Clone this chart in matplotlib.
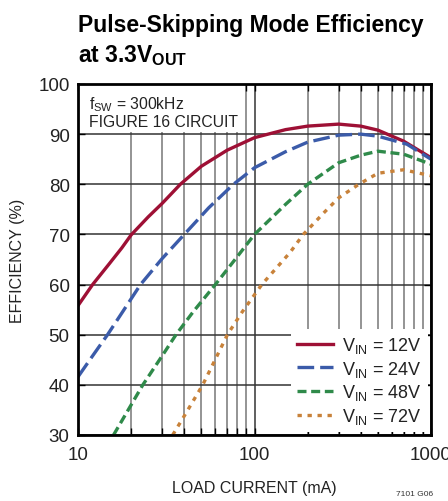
import matplotlib
matplotlib.use('Agg')
import matplotlib.pyplot as plt
from matplotlib.patches import Rectangle
from matplotlib.ticker import FixedLocator, NullFormatter

plt.rcParams['font.family'] = ['Liberation Sans', 'DejaVu Sans']
plt.rcParams['mathtext.fontset'] = 'custom'
plt.rcParams['mathtext.rm'] = 'Liberation Sans'
plt.rcParams['mathtext.bf'] = 'Liberation Sans:bold'

# data (load current mA, efficiency %)
i_12 = [10, 12.1, 15, 17.7, 20, 25, 30, 38, 50, 70, 100, 150, 200, 300, 400, 500, 700, 1000]
e_12 = [55.8, 60, 64.1, 67.3, 69.9, 73.5, 76.2, 80, 83.6, 86.8, 89.3, 90.9, 91.6, 92.0, 91.6, 90.8, 88.6, 85.3]

i_24 = [10, 12, 14.7, 18, 22.6, 30, 40, 55, 76, 100, 150, 200, 300, 400, 500, 730, 1000]
e_24 = [41.6, 45.6, 50, 54.7, 60, 65.2, 70, 75.3, 80, 83.3, 86.5, 88.4, 89.8, 90.0, 89.6, 88.0, 85.0]

i_48 = [15.9, 20, 23.3, 30, 35.9, 45, 60, 80, 100, 150, 200, 300, 400, 500, 700, 1000]
e_48 = [30, 36.0, 40, 45.8, 50, 54.6, 60, 65.6, 70, 76.0, 80, 84.3, 85.8, 86.6, 86.0, 84.0]

i_72 = [34.4, 40, 50.9, 60, 70.2, 85, 110, 159, 189, 250, 300, 390, 500, 700, 1000]
e_72 = [30, 33.8, 40, 45.1, 50, 54.5, 60, 66.4, 70, 74.5, 77.3, 80, 82.2, 82.9, 81.7]

labels = ['$\\mathregular{V_{IN}}$ = 12V', '$\\mathregular{V_{IN}}$ = 24V',
          '$\\mathregular{V_{IN}}$ = 48V', '$\\mathregular{V_{IN}}$ = 72V']
xticks = [10, 100, 1000]
xminor = [20, 30, 40, 50, 60, 70, 80, 90, 200, 300, 400, 500, 600, 700, 800, 900]
yticks = [30, 40, 50, 60, 70, 80, 90, 100]

fig = plt.figure(figsize=(4.48, 5.02), dpi=100)
ax = fig.add_axes([78 / 448, 1 - 436 / 502, 353 / 448, 351 / 502])

ax.set_xscale('log')
ax.set_xlim(10, 1000)
ax.set_ylim(30, 100)

ax.xaxis.set_major_locator(FixedLocator(xticks))
ax.xaxis.set_minor_locator(FixedLocator(xminor))
ax.xaxis.set_minor_formatter(NullFormatter())
ax.set_xticks(xticks, [str(v) for v in xticks])
ax.set_yticks(yticks)

ax.grid(which='major', axis='x', color='#444444', lw=1.2)
ax.grid(which='minor', axis='x', color='#777777', lw=1.1)
ax.grid(which='major', axis='y', color='#333333', lw=1.1)
ax.set_axisbelow(True)
ax.tick_params(which='both', direction='in', top=True, right=True, length=5,
               width=1, labelsize=13.5, labelcolor='#222222', pad=6)
ax.tick_params(axis='x', pad=8)
for s in ax.spines.values():
    s.set_linewidth(2)

# white box behind the annotation text
ax.add_patch(Rectangle((0, 0.862), 0.468, 0.138, transform=ax.transAxes,
                       facecolor='white', edgecolor='none', zorder=1))
ax.text(0.03, 0.972, '$\\mathregular{f_{SW}}$ = 300kHz', transform=ax.transAxes,
        fontsize=11.3, va='top', ha='left', color='#222222', zorder=3)
ax.text(0.03, 0.915, 'FIGURE 16 CIRCUIT', transform=ax.transAxes,
        fontsize=11.3, va='top', ha='left', color='#222222', zorder=3)

ax.plot(i_12, e_12, color='#9e1035', lw=2.4, label=labels[0], zorder=2)
ax.plot(i_24, e_24, color='#3b5ba9', lw=2.4, ls=(0, (5, 1.8)), label=labels[1], zorder=2)
ax.plot(i_48, e_48, color='#2f8a4a', lw=2.4, ls=(0, (2.7, 1.4)), label=labels[2], zorder=2)
ax.plot(i_72, e_72, color='#c8823a', lw=2.4, ls=(0, (1.3, 1.7)), label=labels[3], zorder=2)

leg = ax.legend(loc='lower right', bbox_to_anchor=(1.0, 0.0), frameon=True,
                fontsize=13, handlelength=2.0, handletextpad=0.5,
                labelspacing=0.2, borderpad=0.35, borderaxespad=0.15,
                fancybox=False)
leg.get_frame().set_edgecolor('none')
leg.get_frame().set_alpha(1)
for t in leg.get_texts():
    t.set_color('#222222')

ax.set_xlabel('LOAD CURRENT (mA)', fontsize=11.5, color='#222222')
ax.set_ylabel('EFFICIENCY (%)', fontsize=11.5, color='#222222')
ax.xaxis.set_label_coords(0.5, -0.128)
ax.yaxis.set_label_coords(-0.15, 0.5)

fig.text(78 / 448, 1 - 14 / 502, 'Pulse-Skipping Mode Efficiency\nat 3.3$\\mathregular{V_{OUT}}$',
         fontsize=16.5, fontweight='bold', va='top', ha='left', linespacing=1.3)
fig.text(415 / 448, 1 - 495 / 502, '7101 G06', fontsize=6, ha='center', va='center',
         color='#333333')

fig.savefig('out.png', dpi=100)
